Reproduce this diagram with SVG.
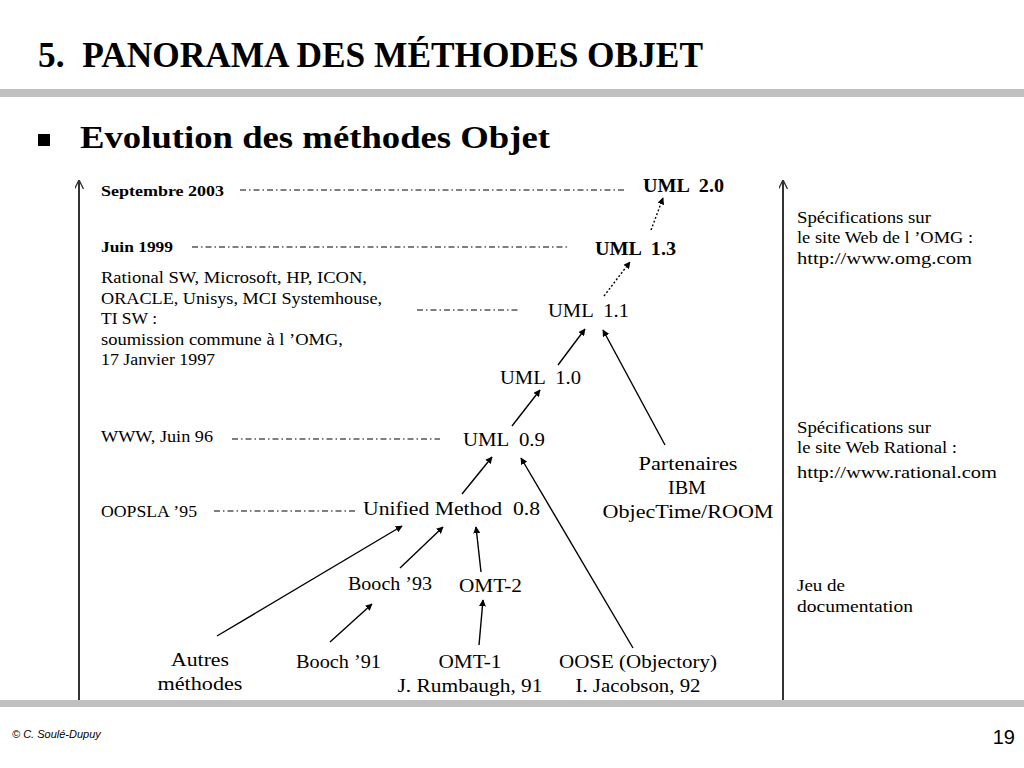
<svg xmlns="http://www.w3.org/2000/svg" width="1024" height="768" viewBox="0 0 1024 768">
<style>
.t{font-family:"Liberation Serif","Times New Roman",serif;fill:#000}
.b{font-weight:bold}
.s15{font-size:16px}
.s17{font-size:18.5px}
.c{text-anchor:middle}
.dd{stroke:#000;stroke-width:1;fill:none;stroke-dasharray:6 3 1.5 3}
.ar{stroke:#000;stroke-width:1.4;fill:none;marker-end:url(#ah)}
.dot{stroke:#000;stroke-width:1.4;fill:none;stroke-dasharray:2 2;marker-end:url(#ah)}
.ax{stroke:#333;stroke-width:2;fill:none;marker-end:url(#open)}
</style>
<defs>
<marker id="ah" viewBox="0 0 10 10" refX="9" refY="5" markerWidth="7" markerHeight="7" markerUnits="userSpaceOnUse" orient="auto"><path d="M0,0 L10,5 L0,10 z" fill="#000"/></marker>
<marker id="open" viewBox="0 0 10 10" refX="10" refY="5" markerWidth="9" markerHeight="9" markerUnits="userSpaceOnUse" orient="auto"><path d="M0,0 L10,5 L0,10" fill="none" stroke="#333" stroke-width="1.5"/></marker>
</defs>
<rect width="1024" height="768" fill="#fff"/>
<g id="header">
<text class="t b" x="38" y="67" font-size="35" textLength="665" lengthAdjust="spacingAndGlyphs" xml:space="preserve">5.  PANORAMA DES MÉTHODES OBJET</text>
<rect x="0" y="89" width="1024" height="8" fill="#c0c0c0"/>
<rect x="38" y="134" width="12" height="12" fill="#000"/>
<text class="t b" x="80" y="148" font-size="32" textLength="470" lengthAdjust="spacingAndGlyphs">Evolution des méthodes Objet</text>
</g>
<g id="connectors">
<line class="ax" x1="79" y1="703" x2="79" y2="180"/>
<line class="ax" x1="783" y1="703" x2="783" y2="180"/>
<line class="dd" x1="240" y1="190" x2="625" y2="190"/>
<line class="dd" x1="192" y1="247" x2="570" y2="247"/>
<line class="dd" x1="417" y1="310" x2="518" y2="310"/>
<line class="dd" x1="232" y1="439" x2="440" y2="439"/>
<line class="dd" x1="214" y1="511" x2="355" y2="511"/>
<line class="dot" x1="651" y1="230" x2="663" y2="198"/>
<line class="dot" x1="604" y1="296" x2="630" y2="262"/>
<line class="ar" x1="558" y1="365" x2="585" y2="329"/>
<line class="ar" x1="665" y1="445" x2="603" y2="330"/>
<line class="ar" x1="512" y1="426" x2="540" y2="390"/>
<line class="ar" x1="462" y1="494" x2="492" y2="457"/>
<line class="ar" x1="633" y1="648" x2="521" y2="458"/>
<line class="ar" x1="217" y1="636" x2="402" y2="526"/>
<line class="ar" x1="400" y1="568" x2="443" y2="527"/>
<line class="ar" x1="481" y1="572" x2="476" y2="527"/>
<line class="ar" x1="330" y1="642" x2="372" y2="604"/>
<line class="ar" x1="479" y1="645" x2="483" y2="600"/>
</g>
<g id="dates">
<text class="t b" x="101" y="196" font-size="15" textLength="123" lengthAdjust="spacingAndGlyphs">Septembre 2003</text>
<text class="t b" x="101" y="252" font-size="15" textLength="72" lengthAdjust="spacingAndGlyphs">Juin 1999</text>
<text class="t s15" x="101" y="283" textLength="266" lengthAdjust="spacingAndGlyphs">Rational SW, Microsoft, HP, ICON,</text>
<text class="t s15" x="101" y="304" textLength="281" lengthAdjust="spacingAndGlyphs">ORACLE, Unisys, MCI Systemhouse,</text>
<text class="t s15" x="101" y="324" textLength="56" lengthAdjust="spacingAndGlyphs">TI SW :</text>
<text class="t s15" x="101" y="345" textLength="242" lengthAdjust="spacingAndGlyphs">soumission commune à l ’OMG,</text>
<text class="t s15" x="101" y="365" textLength="114" lengthAdjust="spacingAndGlyphs">17 Janvier 1997</text>
<text class="t s15" x="101" y="442" textLength="112" lengthAdjust="spacingAndGlyphs">WWW, Juin 96</text>
<text class="t s15" x="101" y="517" textLength="96" lengthAdjust="spacingAndGlyphs">OOPSLA ’95</text>
</g>
<g id="uml20"><text class="t b s17" x="643" y="192" textLength="81" lengthAdjust="spacingAndGlyphs" xml:space="preserve">UML  2.0</text></g>
<g id="uml13"><text class="t b s17" x="595" y="255" textLength="81" lengthAdjust="spacingAndGlyphs" xml:space="preserve">UML  1.3</text></g>
<g id="uml11"><text class="t s17" x="548" y="317" textLength="81" lengthAdjust="spacingAndGlyphs" xml:space="preserve">UML  1.1</text></g>
<g id="uml10"><text class="t s17" x="500" y="384" textLength="81" lengthAdjust="spacingAndGlyphs" xml:space="preserve">UML  1.0</text></g>
<g id="uml09"><text class="t s17" x="463" y="446" textLength="82" lengthAdjust="spacingAndGlyphs" xml:space="preserve">UML  0.9</text></g>
<g id="unified"><text class="t s17" x="363" y="515" textLength="177" lengthAdjust="spacingAndGlyphs" xml:space="preserve">Unified Method  0.8</text></g>
<g id="partenaires">
<text class="t s17 c" x="688" y="470" textLength="99" lengthAdjust="spacingAndGlyphs">Partenaires</text>
<text class="t s17 c" x="687" y="494" textLength="38" lengthAdjust="spacingAndGlyphs">IBM</text>
<text class="t s17 c" x="688" y="518" textLength="171" lengthAdjust="spacingAndGlyphs">ObjecTime/ROOM</text>
</g>
<g id="booch93"><text class="t s17" x="348" y="590" textLength="84" lengthAdjust="spacingAndGlyphs">Booch ’93</text></g>
<g id="omt2"><text class="t s17" x="459" y="592" textLength="63" lengthAdjust="spacingAndGlyphs">OMT-2</text></g>
<g id="autres">
<text class="t s17 c" x="200" y="666" textLength="58" lengthAdjust="spacingAndGlyphs">Autres</text>
<text class="t s17 c" x="200" y="690" textLength="85" lengthAdjust="spacingAndGlyphs">méthodes</text>
</g>
<g id="booch91"><text class="t s17" x="296" y="668" textLength="85" lengthAdjust="spacingAndGlyphs">Booch ’91</text></g>
<g id="omt1">
<text class="t s17 c" x="470" y="668" textLength="63" lengthAdjust="spacingAndGlyphs">OMT-1</text>
<text class="t s17 c" x="470" y="692" textLength="145" lengthAdjust="spacingAndGlyphs">J. Rumbaugh, 91</text>
</g>
<g id="oose">
<text class="t s17 c" x="638" y="668" textLength="158" lengthAdjust="spacingAndGlyphs">OOSE (Objectory)</text>
<text class="t s17 c" x="638" y="692" textLength="125" lengthAdjust="spacingAndGlyphs">I. Jacobson, 92</text>
</g>
<g id="notes">
<text class="t s15" x="797" y="223" textLength="134" lengthAdjust="spacingAndGlyphs">Spécifications sur</text>
<text class="t s15" x="797" y="243" textLength="176" lengthAdjust="spacingAndGlyphs">le site Web de l ’OMG :</text>
<text class="t s15" x="797" y="264" textLength="175" lengthAdjust="spacingAndGlyphs">http://www.omg.com</text>
<text class="t s15" x="797" y="433" textLength="134" lengthAdjust="spacingAndGlyphs">Spécifications sur</text>
<text class="t s15" x="797" y="453" textLength="160" lengthAdjust="spacingAndGlyphs">le site Web Rational :</text>
<text class="t s15" x="797" y="478" textLength="200" lengthAdjust="spacingAndGlyphs">http://www.rational.com</text>
<text class="t s15" x="797" y="591" textLength="48" lengthAdjust="spacingAndGlyphs">Jeu de</text>
<text class="t s15" x="797" y="612" textLength="116" lengthAdjust="spacingAndGlyphs">documentation</text>
</g>
<g id="footer">
<rect x="0" y="700" width="1024" height="7" fill="#c0c0c0"/>
<text x="12" y="738" font-family="Liberation Sans,Arial,sans-serif" font-style="italic" font-size="11" fill="#000">© C. Soulé-Dupuy</text>
<text x="1015" y="744" font-family="Liberation Sans,Arial,sans-serif" font-size="20" text-anchor="end" fill="#000">19</text>
</g>
</svg>
